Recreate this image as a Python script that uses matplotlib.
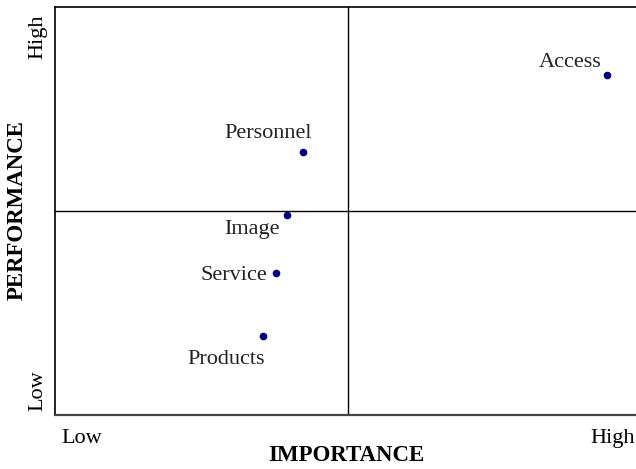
import matplotlib.pyplot as plt

plt.rcParams['font.family'] = ['Liberation Serif', 'DejaVu Serif']

# Importance / performance scores (0-10 scale, midpoint 5)
names = ['Access', 'Personnel', 'Image', 'Service', 'Products']
importance = [9.42, 4.23, 3.96, 3.77, 3.55]
performance = [8.33, 6.45, 4.90, 3.48, 1.94]
# label offsets in pixels (dx, dy) relative to the dot
label_dx = [-37, -35, -35, -42, -37]
label_dy = [13, 18, -14, -2, -24]

W, H = 636, 469
fig = plt.figure(figsize=(W / 100, H / 100), dpi=100)
# the plot box runs a little past the right edge of the image
ax = fig.add_axes([55 / W, 1 - 415 / H, 586 / W, 408 / H])

ax.set_xlim(0, 10)
ax.set_ylim(0, 10)
ax.axvline(5, color='black', lw=1)
ax.axhline(5, color='black', lw=1)

ax.plot(importance, performance, 'o', color='#000080', markersize=4.5, ls='none')
for n, x, y, dx, dy in zip(names, importance, performance, label_dx, label_dy):
    ax.annotate(n, (x, y), xytext=(dx * 0.72, dy * 0.72), textcoords='offset points',
                ha='center', va='center', fontsize=16, color='#222222')

ax.set_xticks([])
ax.set_yticks([])
for s in ax.spines.values():
    s.set_linewidth(1.2)
ax.spines['bottom'].set_linewidth(1.6)
ax.spines['bottom'].set_color('#444444')
ax.spines['right'].set_visible(False)

tf = ax.transAxes
ax.text(27 / 586, -23 / 408, 'Low', transform=tf, ha='center', va='center', fontsize=16)
ax.text(558 / 586, -23 / 408, 'High', transform=tf, ha='center', va='center', fontsize=16)
ax.text(-17 / 586, (415 - 37) / 408, 'High', transform=tf, ha='center', va='center',
        rotation=90, fontsize=16)
ax.text(-17 / 586, (415 - 391) / 408, 'Low', transform=tf, ha='center', va='center',
        rotation=90, fontsize=16)

fig.text(346 / W, 1 - 455 / H, 'IMPORTANCE', ha='center', va='center',
         fontsize=16.5, fontweight='bold')
fig.text(17 / W, 1 - 210 / H, 'PERFORMANCE', ha='center', va='center',
         rotation=90, fontsize=16.5, fontweight='bold')

fig.savefig('out.png', dpi=100)
